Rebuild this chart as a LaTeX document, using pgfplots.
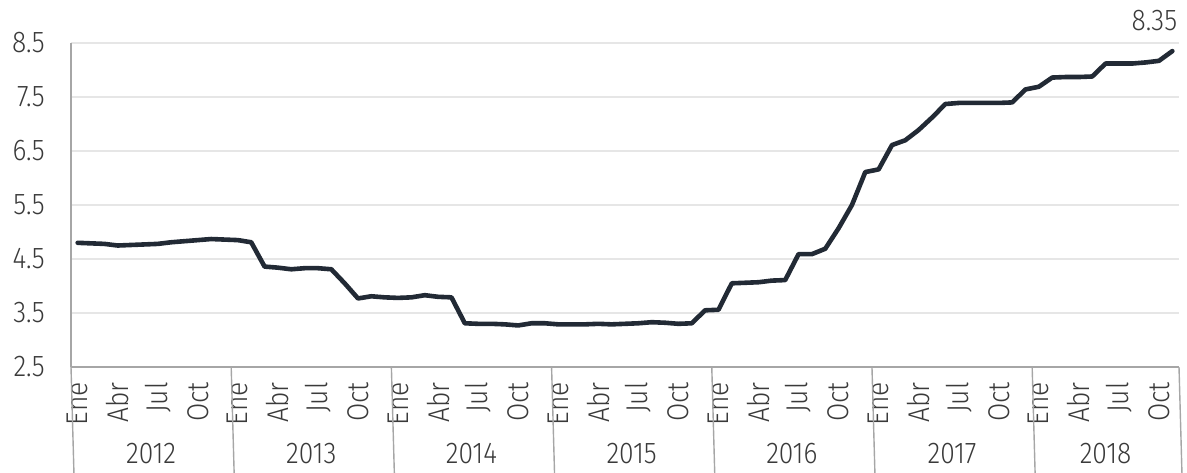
\documentclass[border=0pt]{standalone}
\usepackage{pgfplots}
\pgfplotsset{compat=1.18}
\usepackage{fontspec}
\setmainfont{Fira Sans}[UprightFont=* Light, FakeStretch=0.88]
\definecolor{linec}{HTML}{222A35}
\definecolor{gridc}{HTML}{E6E6E6}
\definecolor{axc}{HTML}{A6A6A6}
\definecolor{txt}{HTML}{3A3A3A}
\newcommand{\tf}{\fontsize{30bp}{33bp}\selectfont}
\pgfplotstableread{
i v
0 4.80
1 4.79
2 4.78
3 4.75
4 4.76
5 4.77
6 4.78
7 4.81
8 4.83
9 4.85
10 4.87
11 4.86
12 4.85
13 4.81
14 4.36
15 4.34
16 4.31
17 4.33
18 4.33
19 4.31
20 4.05
21 3.77
22 3.81
23 3.79
24 3.78
25 3.79
26 3.83
27 3.80
28 3.79
29 3.31
30 3.30
31 3.30
32 3.29
33 3.27
34 3.31
35 3.31
36 3.29
37 3.29
38 3.29
39 3.30
40 3.29
41 3.30
42 3.31
43 3.33
44 3.32
45 3.30
46 3.31
47 3.55
48 3.56
49 4.05
50 4.06
51 4.07
52 4.10
53 4.11
54 4.59
55 4.59
56 4.69
57 5.07
58 5.50
59 6.11
60 6.16
61 6.61
62 6.70
63 6.89
64 7.12
65 7.37
66 7.39
67 7.39
68 7.39
69 7.39
70 7.40
71 7.64
72 7.69
73 7.86
74 7.87
75 7.87
76 7.88
77 8.12
78 8.12
79 8.12
80 8.14
81 8.17
82 8.35
}\datatable
\begin{document}
\begin{tikzpicture}
\begin{axis}[
  scale only axis,
  width=1108bp, height=324bp,
  xmin=-0.5, xmax=82.5,
  ymin=2.5, ymax=8.5,
  axis x line*=bottom, axis y line*=left,
  axis line style={draw=axc, line width=1.4bp, -},
  ytick={2.5,3.5,...,8.5},
  ymajorgrids,
  grid style={draw=gridc, line width=1.8bp},
  major tick length=0pt,
  xtick={0,3,...,81},
  xticklabels={Ene,Abr,Jul,Oct,Ene,Abr,Jul,Oct,Ene,Abr,Jul,Oct,Ene,Abr,Jul,Oct,Ene,Abr,Jul,Oct,Ene,Abr,Jul,Oct,Ene,Abr,Jul,Oct},
  xticklabel style={rotate=90, anchor=east, inner sep=0pt, font=\tf, text=txt},
  xticklabel shift=15bp,
  yticklabel style={anchor=east, inner sep=0pt, font=\tf, text=txt,
    /pgf/number format/.cd, fixed, fixed zerofill, precision=1, assume math mode=true},
  yticklabel shift=26bp,
  clip=false,
]
\addplot[color=linec, line width=4.6bp, line join=round, line cap=round] table[x=i, y=v] {\datatable};
\foreach \b in {-0.5,11.5,23.5,35.5,47.5,59.5,71.5,82.5} {
  \edef\tmp{\noexpand\draw[axc, line width=1.4bp] (axis cs:\b,2.5) -- ++(0,-105bp);}
  \tmp
}
\foreach \c/\y in {5.5/2012,17.5/2013,29.5/2014,41.5/2015,53.5/2016,65.5/2017,77/2018} {
  \edef\tmp{\noexpand\node[text=txt, font=\noexpand\tf, inner sep=0pt, anchor=base] at (axis cs:\c,2.5) [yshift=-96bp] {\y};}
  \tmp
}
\node[anchor=base east, inner sep=0pt, text=txt, font=\tf] at (axis cs:82,8.35) [xshift=5bp, yshift=21bp] {8.35};
\end{axis}
\pgfresetboundingbox
\path (current axis.south west) ++(-71bp,-105bp) coordinate (bl);
\path (current axis.north east) ++(8bp,43bp) coordinate (tr);
\path (bl) rectangle (tr);
\end{tikzpicture}
\end{document}
